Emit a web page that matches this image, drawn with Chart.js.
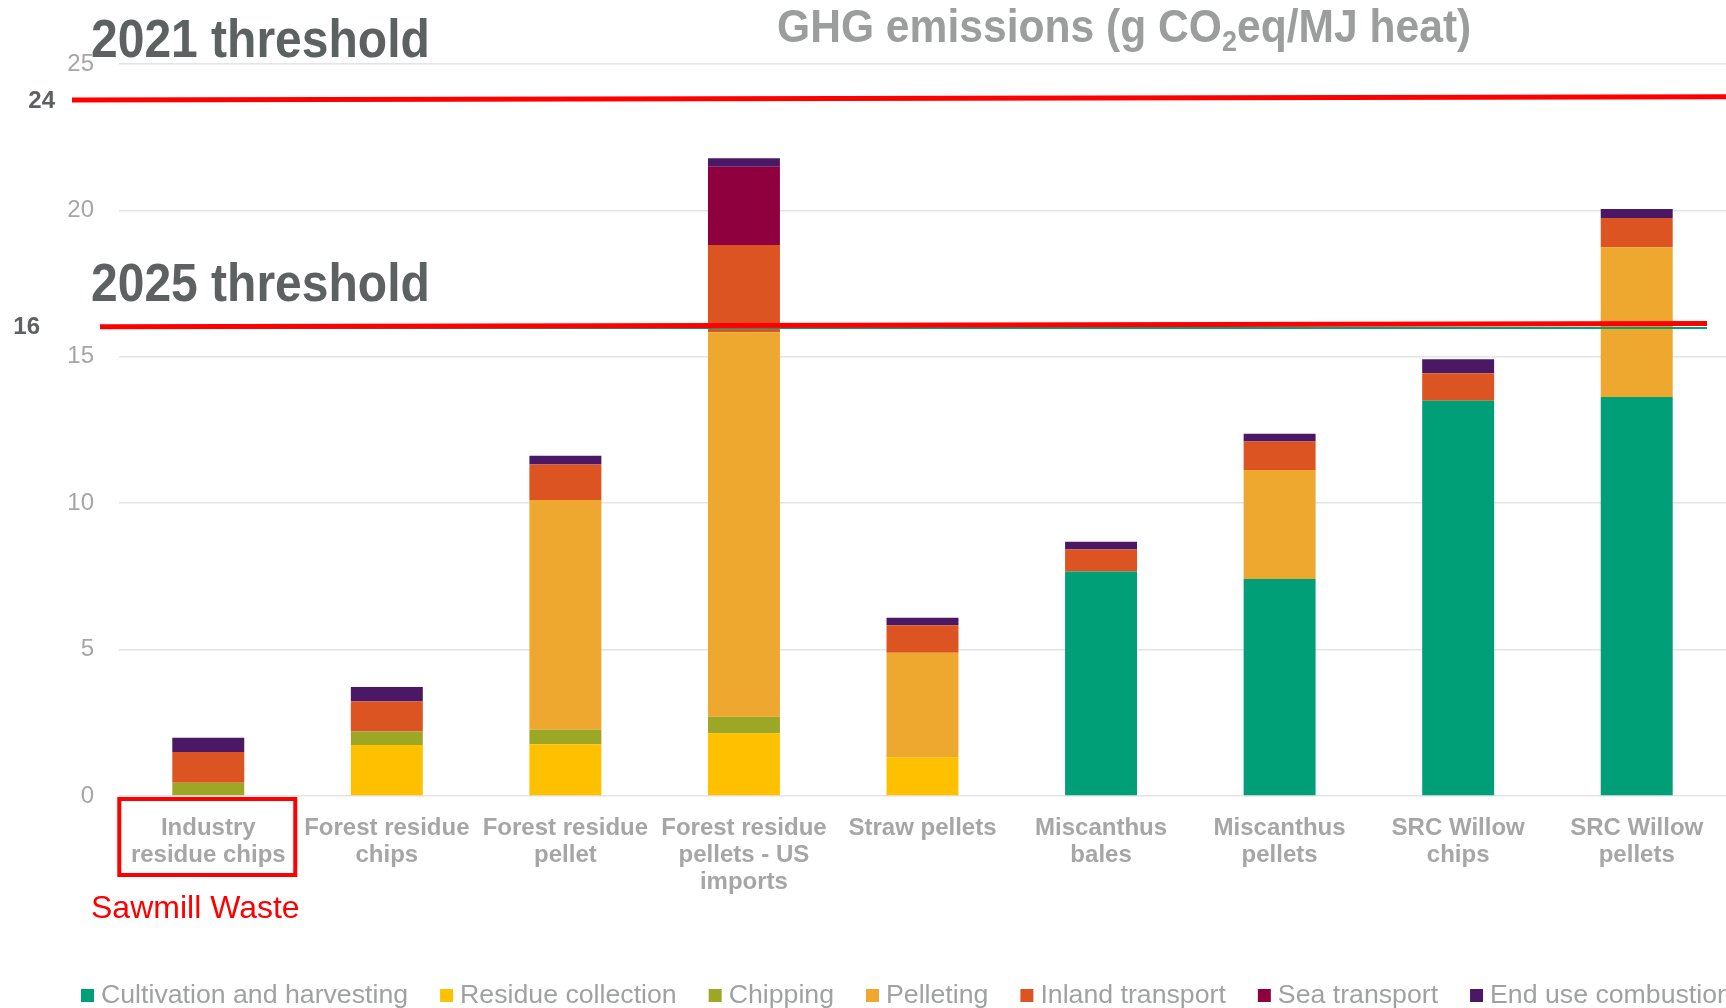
<!DOCTYPE html>
<html>
<head>
<meta charset="utf-8">
<script src="https://cdn.jsdelivr.net/npm/chart.js@4.4.1/dist/chart.umd.min.js"></script>
<style>
  html, body { margin: 0; padding: 0; background: #fff; overflow: hidden; }
  canvas { display: block; }
</style>
</head>
<body>
<canvas id="chart" width="1726" height="1008"></canvas>
<script>
const categories = [
  ["Industry", "residue chips"],
  ["Forest residue", "chips"],
  ["Forest residue", "pellet"],
  ["Forest residue", "pellets - US", "imports"],
  ["Straw pellets"],
  ["Miscanthus", "bales"],
  ["Miscanthus", "pellets"],
  ["SRC Willow", "chips"],
  ["SRC Willow", "pellets"],
];

const seriesNames = [
  "Cultivation and harvesting",
  "Residue collection",
  "Chipping",
  "Pelleting",
  "Inland transport",
  "Sea transport",
  "End use combustion",
];
const seriesColors = ["#009f77", "#ffc000", "#9ba725", "#eea72f", "#db5421", "#8f003f", "#4b1866"];

// one array per stage, one value per category (g CO2eq/MJ heat)
const cultivation = [0, 0, 0, 0, 0, 7.67, 7.41, 13.5, 13.63];
const residueCollection = [0, 1.74, 1.77, 2.14, 1.32, 0, 0, 0, 0];
const chipping = [0.45, 0.46, 0.49, 0.57, 0, 0, 0, 0, 0];
const pelleting = [0, 0, 7.85, 13.13, 3.57, 0, 3.72, 0, 5.11];
const inlandTransport = [1.05, 1.03, 1.21, 2.98, 0.94, 0.75, 0.98, 0.94, 1.0];
const seaTransport = [0, 0, 0, 2.67, 0, 0, 0, 0, 0];
const endUse = [0.49, 0.49, 0.3, 0.29, 0.26, 0.26, 0.26, 0.48, 0.31];

const yTicks = [0, 5, 10, 15, 20, 25];

// thresholds: label, value at left end, value at right end (line is drawn slightly tilted)
const thresholdLabels = ["24", "16"];
const thresholdTitles = ["2021 threshold", "2025 threshold"];
const thresholdStart = [23.77, 16.03];
const thresholdEnd = [23.88, 16.14];
const tealLineValue = 15.98;

const FONT = '"Liberation Sans", Arial, sans-serif';

const allSeries = [cultivation, residueCollection, chipping, pelleting, inlandTransport, seaTransport, endUse];

const datasets = allSeries.map((vals, i) => ({
  label: seriesNames[i],
  data: vals,
  backgroundColor: seriesColors[i],
  borderWidth: 0,
  categoryPercentage: 1,
  barPercentage: 0.403,
}));

const overlay = {
  id: "overlay",
  afterDatasetsDraw(chart) {
    const { ctx, chartArea, scales } = chart;
    const y = scales.y;
    const x = scales.x;
    ctx.save();

    // teal line just under the 2025 threshold
    ctx.strokeStyle = "#00a07a";
    ctx.lineWidth = 2;
    ctx.beginPath();
    ctx.moveTo(chartArea.left - 19, y.getPixelForValue(tealLineValue));
    ctx.lineTo(chartArea.right - 19, y.getPixelForValue(tealLineValue));
    ctx.stroke();

    // red threshold lines
    const lineLeft = [chartArea.left - 47, chartArea.left - 19];
    const lineRight = [chart.width, chartArea.right - 19];
    const labelRight = [55, 40];
    ctx.strokeStyle = "#ff0000";
    ctx.lineWidth = 5;
    for (let i = 0; i < thresholdStart.length; i++) {
      ctx.beginPath();
      ctx.moveTo(lineLeft[i], y.getPixelForValue(thresholdStart[i]));
      ctx.lineTo(lineRight[i], y.getPixelForValue(thresholdEnd[i]));
      ctx.stroke();

      ctx.fillStyle = "#5d6162";
      ctx.font = "bold 24px " + FONT;
      ctx.textAlign = "right";
      ctx.textBaseline = "middle";
      ctx.fillText(thresholdLabels[i], labelRight[i], y.getPixelForValue(thresholdStart[i]) + 1);
    }

    // big threshold captions
    const captionBase = [57, 301];
    for (let i = 0; i < thresholdTitles.length; i++) {
      ctx.save();
      ctx.translate(91, captionBase[i]);
      ctx.scale(1, 1.1);
      ctx.fillStyle = "#5d6162";
      ctx.font = "bold 48px " + FONT;
      ctx.textAlign = "left";
      ctx.textBaseline = "alphabetic";
      ctx.fillText(thresholdTitles[i], 0, 0);
      ctx.restore();
    }

    // title with subscript
    ctx.save();
    ctx.translate(777, 42);
    ctx.scale(1, 1.1);
    ctx.fillStyle = "#9c9e9e";
    ctx.textAlign = "left";
    ctx.textBaseline = "alphabetic";
    const big = "bold 42.6px " + FONT;
    const small = "bold 27px " + FONT;
    const parts = [["GHG emissions (g CO", big, 0], ["2", small, 8], ["eq/MJ heat)", big, 0]];
    let tx = 0;
    parts.forEach(([t, f, dy]) => {
      ctx.font = f;
      ctx.fillText(t, tx, dy);
      tx += ctx.measureText(t).width;
    });
    ctx.restore();

    // Sawmill waste box + note
    const cx = x.getPixelForValue(0);
    ctx.strokeStyle = "#ff0000";
    ctx.lineWidth = 4;
    ctx.strokeRect(cx - 89, chartArea.bottom + 3, 176, 76);
    ctx.fillStyle = "#ff0000";
    ctx.font = "32px " + FONT;
    ctx.textAlign = "left";
    ctx.textBaseline = "middle";
    ctx.fillText("Sawmill Waste", 91, 909);

    // legend
    ctx.font = "26.7px " + FONT;
    ctx.textBaseline = "middle";
    let lx = 81;
    const ly = 996;
    seriesNames.forEach((name, i) => {
      ctx.fillStyle = seriesColors[i];
      ctx.fillRect(lx, ly - 7, 13, 13);
      ctx.fillStyle = "#a0a2a2";
      ctx.fillText(name, lx + 20, ly);
      lx += 20 + ctx.measureText(name).width + 32;
    });

    ctx.restore();
  },
};

new Chart(document.getElementById("chart"), {
  type: "bar",
  data: { labels: categories, datasets: datasets },
  options: {
    responsive: false,
    animation: false,
    devicePixelRatio: 1,
    layout: { padding: { top: 64, left: 0, right: 0, bottom: 0 } },
    plugins: {
      legend: { display: false },
      tooltip: { enabled: false },
    },
    scales: {
      x: {
        stacked: true,
        afterFit(scale) { scale.height = 212; },
        grid: { display: false },
        border: { display: false },
        ticks: {
          color: "#a6a6a6",
          font: { family: FONT, size: 24, weight: "bold", lineHeight: 1.125 },
          padding: 11,
          maxRotation: 0,
          autoSkip: false,
        },
      },
      y: {
        stacked: true,
        min: 0,
        max: 25,
        afterFit(scale) { scale.width = 119; },
        afterBuildTicks(scale) { scale.ticks = yTicks.map(v => ({ value: v })); },
        grid: { color: "#e4e4e4", lineWidth: 1.5, drawTicks: false },
        border: { display: false },
        ticks: {
          color: "#a6a6a6",
          font: { family: FONT, size: 24 },
          padding: 25,
        },
      },
    },
  },
  plugins: [overlay],
});
</script>
</body>
</html>
